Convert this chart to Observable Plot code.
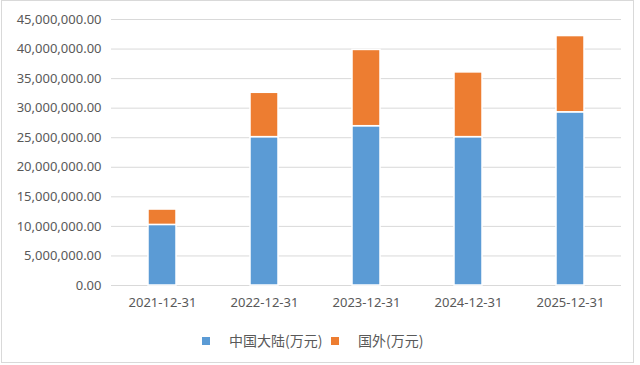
<!DOCTYPE html>
<html><head><meta charset="utf-8">
<script src="https://cdn.jsdelivr.net/npm/d3@7"></script>
<script src="https://cdn.jsdelivr.net/npm/@observablehq/plot@0.6"></script>
<style>
body{margin:0;background:#fff;font-family:"Noto Sans","Noto Sans CJK SC",sans-serif;}
#wrap{position:relative;width:640px;height:365px;overflow:hidden;background:#fff;}
#frame{position:absolute;left:1px;top:0;width:633px;height:363px;border:1px solid #d9d9d9;box-sizing:border-box;pointer-events:none;}
#legend{position:absolute;top:330px;left:0;width:640px;height:20px;font-size:14px;color:#595959;font-family:"Noto Sans CJK SC","Noto Sans",sans-serif;}
.sw{position:absolute;width:8px;height:8px;top:7px;}
.lt{position:absolute;top:0;line-height:20px;white-space:nowrap;}
</style></head>
<body><div id="wrap"><div id="chart"></div>
<div id="legend"></div><div id="frame"></div></div>
<script>
const dates = ["2021-12-31","2022-12-31","2023-12-31","2024-12-31","2025-12-31"];
const mainland = [10250000, 25100000, 26950000, 25100000, 29300000];
const overseas = [2600000, 7500000, 12900000, 10950000, 12900000];
const seriesNames = ["中国大陆(万元)", "国外(万元)"];
const colors = ["#5B9BD5", "#ED7D31"];
const yTicks = [0,5e6,10e6,15e6,20e6,25e6,30e6,35e6,40e6,45e6];

const data = [];
dates.forEach((d,i)=>{
  data.push({date:d, series:seriesNames[0], value:mainland[i]});
  data.push({date:d, series:seriesNames[1], value:overseas[i]});
});

const plot = Plot.plot({
  width: 640, height: 320,
  marginTop: 19, marginBottom: 35, marginLeft: 111, marginRight: 19,
  style: {fontFamily: '"Noto Sans", sans-serif', fontSize: "13px", color: "#595959", background: "#fff"},
  x: {domain: dates, paddingInner: 0.725, paddingOuter: 0.3625, label: null},
  y: {domain: [0, 45e6], label: null},
  color: {domain: seriesNames, range: colors},
  marks: [
    Plot.ruleY(yTicks, {stroke: "#d9d9d9", strokeWidth: 1}),
    Plot.barY(data, {x: "date", y: "value", fill: "series", order: seriesNames, stroke: "white", strokeWidth: 1.5}),
    Plot.axisY({ticks: yTicks, tickFormat: d3.format(",.2f"), tickSize: 0, tickPadding: 10, fill: "#595959", label: null}),
    Plot.axisX({tickSize: 0, tickPadding: 12, fill: "#595959", label: null})
  ]
});
document.getElementById("chart").appendChild(plot);

const legend = document.getElementById("legend");
const items = [{x:202, tx:229}, {x:331, tx:358}];
seriesNames.forEach((n,i)=>{
  const s = document.createElement("div"); s.className="sw"; s.style.left=items[i].x+"px"; s.style.background=colors[i]; legend.appendChild(s);
  const t = document.createElement("div"); t.className="lt"; t.style.left=items[i].tx+"px"; t.textContent=n; legend.appendChild(t);
});
</script></body></html>
